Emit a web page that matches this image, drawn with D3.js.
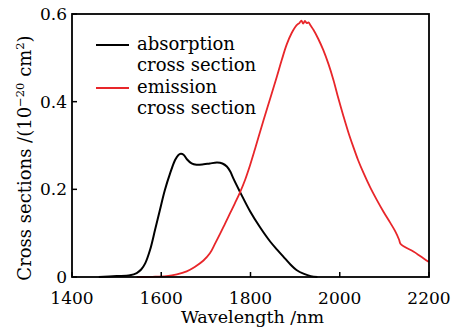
<!DOCTYPE html>
<html>
<head>
<meta charset="utf-8">
<script src="https://cdn.jsdelivr.net/npm/d3@7"></script>
</head>
<body style="margin:0">
<script>
// absorption cross section (black)
var absWl  = [1460,1500,1530,1545,1555,1564,1575,1586,1597,1608,1620,1631,1638,1644,1650,1658,1668,1679,1695,1709,1725,1737,1747,1755,1761,1776,1799,1821,1844,1860,1874,1890,1903,1920,1935,1950];
var absVal = [0,0.002,0.004,0.009,0.017,0.031,0.062,0.107,0.153,0.198,0.237,0.267,0.278,0.281,0.279,0.268,0.259,0.256,0.257,0.259,0.261,0.259,0.252,0.240,0.226,0.195,0.150,0.114,0.081,0.062,0.046,0.028,0.016,0.007,0.002,0];
// emission cross section (red)
var emWl  = [1545,1580,1612,1635,1657,1675,1694,1709,1720,1732,1743,1754,1765,1776,1788,1799,1808,1817,1829,1845,1859,1870,1881,1892,1903,1910,1914,1918,1922,1926,1930,1935,1941,1952,1963,1975,1986,1997,2008,2019,2030,2041,2053,2068,2083,2098,2113,2125,2133,2136,2145,2165,2180,2200];
var emVal = [0,0.0005,0.002,0.006,0.013,0.023,0.037,0.054,0.075,0.099,0.122,0.145,0.168,0.192,0.222,0.255,0.285,0.316,0.357,0.410,0.457,0.495,0.530,0.556,0.574,0.580,0.585,0.578,0.584,0.579,0.581,0.573,0.564,0.543,0.518,0.485,0.449,0.407,0.368,0.331,0.298,0.267,0.238,0.205,0.176,0.149,0.124,0.103,0.085,0.076,0.069,0.058,0.048,0.034];

var xTicks = [1400,1600,1800,2000,2200];
var yTicks = [0,0.2,0.4,0.6];
var legendNames = [["absorption","cross section"],["emission","cross section"]];
var color_abs = "#000000";
var color_em = "#e8262a";
var fam = "DejaVu Serif";

var W = 467, H = 331;
var m = {left:72, top:14, right:38, bottom:54};
var w = W - m.left - m.right, h = H - m.top - m.bottom;

var svg = d3.select("body").append("svg")
    .attr("width", W).attr("height", H)
    .attr("font-family", fam)
    .style("font-family", "'" + fam + "'");

function label(sel, size) {
    return sel.attr("font-family", fam)
        .style("font-family", "'" + fam + "'")
        .style("font-size", size + "px");
}

var x = d3.scaleLinear().domain([1400,2200]).range([m.left, m.left + w]);
var y = d3.scaleLinear().domain([0,0.6]).range([m.top + h, m.top]);

// curves
var line = d3.line()
    .x(function(d){ return x(d[0]); })
    .y(function(d){ return y(d[1]); })
    .curve(d3.curveCatmullRom.alpha(0.5));

svg.append("path")
    .datum(absWl.map(function(d,i){ return [d, absVal[i]]; }))
    .attr("d", line)
    .attr("fill","none").attr("stroke",color_abs).attr("stroke-width",2);

svg.append("path")
    .datum(emWl.map(function(d,i){ return [d, emVal[i]]; }))
    .attr("d", line)
    .attr("fill","none").attr("stroke",color_em).attr("stroke-width",1.8);

// frame
svg.append("rect")
    .attr("x", m.left).attr("y", m.top).attr("width", w).attr("height", h)
    .attr("fill","none").attr("stroke","#000").attr("stroke-width",1.8);

// inward ticks
svg.selectAll(".xtick").data(xTicks).enter().append("line")
    .attr("x1", function(d){ return x(d); }).attr("x2", function(d){ return x(d); })
    .attr("y1", m.top + h).attr("y2", m.top + h - 5)
    .attr("stroke","#000").attr("stroke-width",1.5);
svg.selectAll(".ytick").data(yTicks).enter().append("line")
    .attr("x1", m.left).attr("x2", m.left + 5)
    .attr("y1", function(d){ return y(d); }).attr("y2", function(d){ return y(d); })
    .attr("stroke","#000").attr("stroke-width",1.5);

// tick labels
svg.selectAll(".xlab").data(xTicks).enter().append("text")
    .attr("x", function(d){ return x(d); }).attr("y", 304)
    .attr("text-anchor","middle")
    .call(label, 17)
    .text(function(d){ return d; });
svg.selectAll(".ylab").data(yTicks).enter().append("text")
    .attr("x", m.left - 5).attr("y", function(d){ return y(d) + 6; })
    .attr("text-anchor","end")
    .call(label, 17)
    .text(function(d){ return d == 0 ? "0" : d3.format(".1f")(d); });

// axis titles
svg.append("text")
    .attr("x", m.left + w/2 + 2).attr("y", 322.5)
    .attr("text-anchor","middle")
    .call(label, 17.5)
    .text("Wavelength /nm");

var yl = svg.append("text")
    .attr("transform","translate(31,158) rotate(-90)")
    .attr("text-anchor","middle")
    .call(label, 18);
yl.append("tspan").text("Cross sections /(10");
yl.append("tspan").style("font-size","11.5px").attr("dy",-7).text("\u221220");
yl.append("tspan").attr("dy",7).text(" cm");
yl.append("tspan").style("font-size","11.5px").attr("dy",-7).text("2");
yl.append("tspan").attr("dy",7).text(")");

// legend
[color_abs, color_em].forEach(function(c,i){
    var yy = 45 + i*43;
    svg.append("line")
        .attr("x1",96).attr("x2",129).attr("y1",yy).attr("y2",yy)
        .attr("stroke",c).attr("stroke-width",2);
    legendNames[i].forEach(function(t,j){
        svg.append("text")
            .attr("x",137).attr("y", yy + 4.5 + j*21)
            .call(label, 18)
            .text(t);
    });
});
</script>
</body>
</html>
